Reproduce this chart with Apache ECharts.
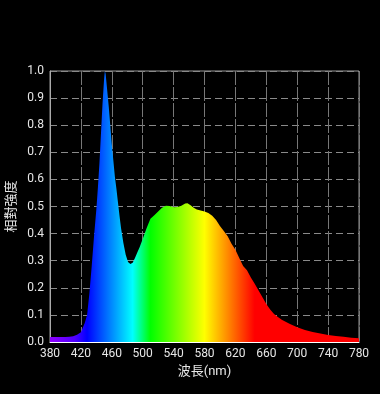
<!DOCTYPE html>
<html>
<head>
<meta charset="utf-8">
<script src="https://cdn.jsdelivr.net/npm/echarts@6/dist/echarts.min.js"></script>
<style>
html,body{margin:0;padding:0;background:#000;}
#c{width:380px;height:394px;}
</style>
</head>
<body>
<div id="c"></div>
<script>
// wavelength (nm)
var wavelengths = [380,390,400,405,410,415,420,425,428,431,434,437,440,442,444,446,448,450,451,452,454,456,458,460,462,464,466,468,470,472,475,478,481,484,487,490,493,496,500,505,510,515,520,525,530,535,540,545,550,555,558,562,566,570,575,580,585,590,595,600,605,610,615,620,625,630,635,640,645,650,655,660,665,670,675,680,690,700,710,720,730,740,750,760,770,780];
// relative intensity
var intensity = [0.018,0.018,0.018,0.019,0.021,0.027,0.036,0.07,0.10,0.18,0.28,0.39,0.49,0.57,0.66,0.77,0.88,0.97,1.0,0.99,0.93,0.87,0.80,0.73,0.67,0.61,0.565,0.515,0.465,0.42,0.365,0.322,0.295,0.288,0.292,0.31,0.33,0.35,0.38,0.42,0.455,0.468,0.482,0.495,0.503,0.502,0.497,0.498,0.503,0.511,0.512,0.505,0.495,0.489,0.485,0.482,0.476,0.466,0.45,0.428,0.41,0.39,0.363,0.34,0.31,0.28,0.265,0.238,0.215,0.19,0.165,0.14,0.12,0.103,0.092,0.082,0.067,0.054,0.044,0.037,0.031,0.026,0.022,0.019,0.016,0.014];
var xTicks = [380,420,460,500,540,580,620,660,700,740,780];
var yTicks = [0,0.1,0.2,0.3,0.4,0.5,0.6,0.7,0.8,0.9,1.0];
var xName = '波長(nm)';
var yName = '相對強度';
// spectrum colour stops (nm, colour)
var colorNm = [380,412,428,487,510,580,645,780];
var colorHex = ['#9000ff','#5000ff','#0000ff','#00ffff','#00ff00','#ffff00','#ff0000','#ff0000'];

var data = wavelengths.map(function(w,i){return [w,intensity[i]];});
var stops = colorNm.map(function(w,i){return {offset:(w-380)/400,color:colorHex[i]};});

var chart = echarts.init(document.getElementById('c'));
chart.setOption({
  backgroundColor:'#000',
  animation:false,
  grid:{left:50,right:21,top:71,bottom:52,containLabel:false,outerBoundsMode:'none',show:true,borderColor:'#999',borderWidth:1,backgroundColor:'transparent'},
  xAxis:{
    type:'value',min:380,max:780,interval:40,
    name:xName,nameLocation:'middle',nameGap:19,
    nameTextStyle:{color:'#e6e6e6',fontSize:13,fontFamily:'Roboto, "Noto Sans CJK TC", sans-serif'},
    axisLine:{show:true,lineStyle:{color:'#ffffff',width:1}},
    axisTick:{show:false},
    axisLabel:{color:'#e6e6e6',fontSize:12,margin:6,fontFamily:'Roboto, sans-serif',
      formatter:function(v){return xTicks.indexOf(v)>=0?String(v):'';}},
    splitLine:{show:true,lineStyle:{color:'#777',type:[14,2],width:1}}
  },
  yAxis:{
    type:'value',min:0,max:1,interval:0.1,
    name:yName,nameLocation:'middle',nameGap:32,
    nameTextStyle:{color:'#e6e6e6',fontSize:13,fontFamily:'"Noto Sans CJK TC", sans-serif'},
    axisLine:{show:true,lineStyle:{color:'#aaa'}},
    axisTick:{show:false},
    axisLabel:{color:'#e6e6e6',fontSize:12,margin:6,fontFamily:'Roboto, sans-serif',
      formatter:function(v){return v.toFixed(1);}},
    splitLine:{show:true,lineStyle:{color:'#8a8a8a',type:[7,4],width:1}}
  },
  series:[{
    type:'line',data:data,symbol:'none',smooth:false,
    lineStyle:{width:0},
    areaStyle:{opacity:1,color:new echarts.graphic.LinearGradient(0,0,1,0,stops)}
  }]
});
</script>
</body>
</html>
